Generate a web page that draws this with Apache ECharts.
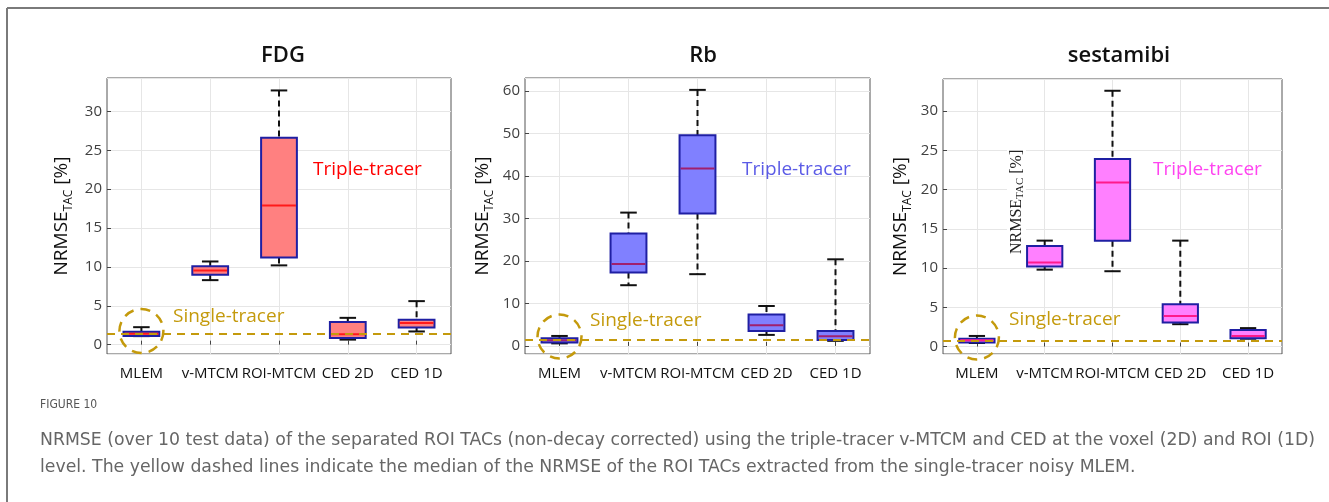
<!DOCTYPE html>
<html>
<head>
<meta charset="utf-8">
<script src="https://cdn.jsdelivr.net/npm/echarts@6/dist/echarts.min.js"></script>
<style>
  html, body { margin: 0; padding: 0; background: #fff; }
  #chart { width: 1329px; height: 502px; }
</style>
</head>
<body>
<div id="chart"></div>
<script>
// categories on every panel
var methods = ["MLEM", "v-MTCM", "ROI-MTCM", "CED 2D", "CED 1D"];
var tracers = ["FDG", "Rb", "sestamibi"];

// [lower whisker, q1, median, q3, upper whisker] per method
var fdgStats = [
  [1.1, 1.1, 1.4, 1.65, 2.25],
  [8.3, 9.0, 9.55, 10.1, 10.7],
  [10.2, 11.2, 17.9, 26.6, 32.7],
  [0.65, 0.85, 1.35, 2.9, 3.45],
  [1.7, 2.2, 2.8, 3.2, 5.6]
];
var rbStats = [
  [0.6, 0.8, 1.35, 1.8, 2.35],
  [14.3, 17.3, 19.3, 26.5, 31.4],
  [16.9, 31.2, 41.8, 49.6, 60.3],
  [2.6, 3.5, 4.9, 7.4, 9.4],
  [1.2, 1.4, 2.3, 3.5, 20.4]
];
var sestaStats = [
  [0.45, 0.5, 0.8, 1.0, 1.35],
  [9.8, 10.2, 10.7, 12.8, 13.5],
  [9.6, 13.5, 20.9, 23.9, 32.6],
  [2.85, 3.05, 3.9, 5.4, 13.5],
  [1.0, 1.05, 1.35, 2.1, 2.35]
];
// median NRMSE of single-tracer MLEM (yellow dashed line)
var singleTracer = [1.37, 1.5, 0.77];

// y-axis extents
var yMin = [-1.2, -1.9, -0.95];
var yMax = [34.3, 63.1, 34.1];

var allStats = [fdgStats, rbStats, sestaStats];
var boxFill = ["#ff8080", "#8080ff", "#ff80ff"];
var medianColor = ["#ff1a1a", "#a0206e", "#ff1a8c"];
var tripleColor = ["#ff0000", "#5b5be6", "#ff44f0"];
var gold = "#c49a0c";

var grids = [
  { left: 107, top: 78, width: 344, height: 276 },
  { left: 525, top: 78, width: 345, height: 276 },
  { left: 943, top: 79, width: 339, height: 275 }
];
var nameGaps = [32, 29, 29];

function makeBoxRender(fill, med) {
  return function (params, api) {
    var x = api.value(0);
    var lo = api.coord([x, api.value(1)]);
    var q1 = api.coord([x, api.value(2)]);
    var md = api.coord([x, api.value(3)]);
    var q3 = api.coord([x, api.value(4)]);
    var hi = api.coord([x, api.value(5)]);
    var band = api.size([1, 0])[0];
    var bw = band * 0.52;
    var cw = band * 0.24;
    var cx = md[0];
    var dash = { stroke: "#111", lineWidth: 2, lineDash: [6, 4] };
    var solid = { stroke: "#111", lineWidth: 2 };
    return {
      type: "group",
      children: [
        { type: "line", shape: { x1: cx, y1: hi[1], x2: cx, y2: q3[1] }, style: dash },
        { type: "line", shape: { x1: cx, y1: q1[1], x2: cx, y2: lo[1] }, style: dash },
        { type: "line", shape: { x1: cx - cw / 2, y1: hi[1], x2: cx + cw / 2, y2: hi[1] }, style: solid },
        { type: "line", shape: { x1: cx - cw / 2, y1: lo[1], x2: cx + cw / 2, y2: lo[1] }, style: solid },
        {
          type: "rect",
          shape: { x: cx - bw / 2, y: q3[1], width: bw, height: q1[1] - q3[1] },
          style: { fill: fill, stroke: "#1f1fa3", lineWidth: 2 }
        },
        { type: "line", shape: { x1: cx - bw / 2 + 1, y1: md[1], x2: cx + bw / 2 - 1, y2: md[1] }, style: { stroke: med, lineWidth: 2 } }
      ]
    };
  };
}

function renderCircle(params, api) {
  var c = api.coord([api.value(0), api.value(1)]);
  return {
    type: "circle",
    shape: { cx: c[0], cy: c[1] - 3, r: 22 },
    style: { fill: "none", stroke: gold, lineWidth: 2.5, lineDash: [10, 7] }
  };
}

var option = {
  animation: false,
  textStyle: { fontFamily: "Open Sans" },
  title: [],
  grid: [],
  xAxis: [],
  yAxis: [],
  series: [],
  graphic: []
};

var titleCenters = [278, 698, 1114];

for (var i = 0; i < 3; i++) {
  option.grid.push({
    left: grids[i].left, top: grids[i].top, width: grids[i].width, height: grids[i].height,
    show: true, borderColor: "#555", borderWidth: 1
  });
  option.title.push({
    text: tracers[i], left: titleCenters[i], top: 40, textAlign: "center",
    textStyle: { fontFamily: "Open Sans", fontSize: 22, fontWeight: 600, color: "#111" }
  });
  option.xAxis.push({
    type: "category", gridIndex: i, data: methods,
    axisLine: { show: false },
    axisTick: { show: true, inside: true, alignWithLabel: true, length: 4, lineStyle: { color: "#444" } },
    axisLabel: { color: "#111", fontSize: 15, margin: 12, interval: 0 },
    splitLine: { show: true, alignWithLabel: true, lineStyle: { color: "#e6e6e6" } }
  });
  option.yAxis.push({
    type: "value", gridIndex: i, min: yMin[i], max: yMax[i], splitNumber: 7,
    name: "{a|NRMSE}{b|TAC}{a| [%]}",
    nameLocation: "middle", nameRotate: 90, nameGap: nameGaps[i],
    nameTextStyle: {
      rich: {
        a: { fontFamily: "Open Sans", fontSize: 19, color: "#111", lineHeight: 26 },
        b: { fontFamily: "Open Sans", fontSize: 12, color: "#111", lineHeight: 12, verticalAlign: "bottom" }
      }
    },
    axisLine: { show: false },
    axisTick: { show: true, inside: true, length: 4, lineStyle: { color: "#444" } },
    axisLabel: { color: "#404040", fontSize: 15, margin: 5, showMinLabel: false, showMaxLabel: false },
    splitLine: { show: true, lineStyle: { color: "#e6e6e6" } }
  });
  option.series.push({
    type: "custom", xAxisIndex: i, yAxisIndex: i,
    renderItem: makeBoxRender(boxFill[i], medianColor[i]),
    encode: { x: 0, y: [1, 2, 3, 4, 5] },
    data: allStats[i].map(function (s, k) { return [k].concat(s); }),
    z: 3
  });
  option.series.push({
    type: "custom", xAxisIndex: i, yAxisIndex: i,
    renderItem: renderCircle,
    encode: { x: 0, y: 1 },
    data: [[0, singleTracer[i]]],
    z: 5,
    markLine: {
      silent: true, symbol: "none", label: { show: false },
      lineStyle: { color: gold, width: 2, type: [8, 6] },
      data: [{ yAxis: singleTracer[i] }]
    }
  });
}

var tripleX = [313, 742, 1153];
var singleX = [173, 590, 1009];
var singleY = [315, 319, 318];
for (var j = 0; j < 3; j++) {
  option.graphic.push({
    type: "text", left: tripleX[j], top: 160,
    style: { text: "Triple-tracer", fill: tripleColor[j], font: "19px 'Open Sans'" }, z: 10
  });
  option.graphic.push({
    type: "text", left: singleX[j], top: singleY[j] - 8,
    style: { text: "Single-tracer", fill: gold, font: "19px 'Open Sans'" }, z: 10
  });
}

// stray label left inside the sestamibi panel
option.graphic.push({
  type: "text", x: 1007, y: 254, rotation: Math.PI / 2, z: 10,
  style: {
    text: "{a|NRMSE}{b|TAC}{a| [%]}",
    backgroundColor: "#fff",
    rich: {
      a: { fontFamily: "Liberation Serif", fontSize: 16, fill: "#222", lineHeight: 19 },
      b: { fontFamily: "Liberation Serif", fontSize: 11, fill: "#222", lineHeight: 11, verticalAlign: "bottom" }
    }
  }
});

// frame and caption
option.graphic.push({ type: "line", shape: { x1: 7, y1: 8, x2: 1329, y2: 8 }, style: { stroke: "#7a7a7a", lineWidth: 2 } });
option.graphic.push({ type: "line", shape: { x1: 7, y1: 8, x2: 7, y2: 502 }, style: { stroke: "#7a7a7a", lineWidth: 2 } });
option.graphic.push({
  type: "text", left: 40, top: 399,
  style: { text: "FIGURE 10", fill: "#555", font: "12px 'DejaVu Sans Condensed'" }
});
option.graphic.push({
  type: "text", left: 40, top: 427,
  style: {
    text: "NRMSE (over 10 test data) of the separated ROI TACs (non-decay corrected) using the triple-tracer v-MTCM and CED at the voxel (2D) and ROI (1D)\nlevel. The yellow dashed lines indicate the median of the NRMSE of the ROI TACs extracted from the single-tracer noisy MLEM.",
    fill: "#666", font: "17.3px 'DejaVu Sans'", lineHeight: 27
  }
});

var chart = echarts.init(document.getElementById("chart"));
chart.setOption(option);
window.addEventListener("resize", function () { chart.resize(); });
</script>
</body>
</html>
